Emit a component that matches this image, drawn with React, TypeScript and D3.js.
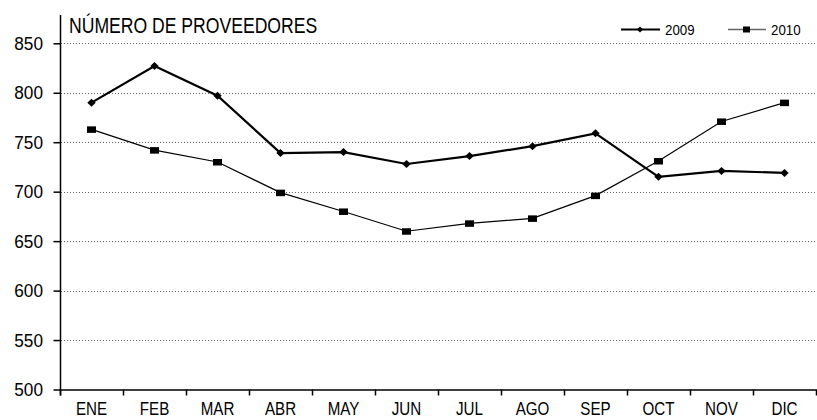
import { useEffect, useRef } from 'react';
import * as d3 from 'd3';

const months = ['ENE', 'FEB', 'MAR', 'ABR', 'MAY', 'JUN', 'JUL', 'AGO', 'SEP', 'OCT', 'NOV', 'DIC'];
const values2009 = [790, 827, 797, 739, 740, 728, 736, 746, 759, 715, 721, 719];
const values2010 = [763, 742, 730, 699, 680, 660, 668, 673, 696, 731, 771, 790];
const yTicks = [500, 550, 600, 650, 700, 750, 800, 850];
const title = 'NÚMERO DE PROVEEDORES';

const FONT = '"Liberation Sans", Arial, sans-serif';

function App() {
  const ref = useRef<SVGSVGElement>(null);

  useEffect(() => {
    const width = 817;
    const height = 420;
    const svg = d3.select(ref.current).attr('width', width).attr('height', height);
    svg.selectAll('*').remove();

    const x = d3.scaleBand().domain(months).range([60, 816]);
    const y = d3.scaleLinear().domain([500, 850]).range([389.5, 43.3]);
    const cx = (m: string) => (x(m) as number) + x.bandwidth() / 2;

    // narrow text: the reference uses a condensed face, so squeeze a regular one
    const label = (g: any, tx: number, ty: number, s: string, size: number, sx: number, anchor = 'start') =>
      g
        .append('text')
        .attr('transform', `translate(${tx},${ty}) scale(${sx},1)`)
        .attr('text-anchor', anchor)
        .attr('font-family', FONT)
        .attr('font-size', size)
        .attr('fill', '#000')
        .text(s);

    // grid
    svg
      .append('g')
      .selectAll('line')
      .data(yTicks.filter(t => t > 500))
      .join('line')
      .attr('x1', 61)
      .attr('x2', width)
      .attr('y1', d => Math.round(y(d)) + 0.5)
      .attr('y2', d => Math.round(y(d)) + 0.5)
      .attr('stroke', '#666')
      .attr('stroke-width', 1)
      .attr('stroke-dasharray', '1,2');

    // y axis
    const yAxis = svg
      .append('g')
      .attr('transform', 'translate(60.5,0)')
      .call(d3.axisLeft(y).tickValues(yTicks).tickSize(7).tickFormat(() => ''));
    yAxis.select('.domain').remove();
    yAxis.selectAll('line').attr('stroke', '#000').attr('stroke-width', 1.5);
    const yl = svg.append('g');
    yTicks.forEach(t => label(yl, 43, y(t) + 6.5, String(t), 18.5, 0.93, 'end'));
    svg
      .append('line')
      .attr('x1', 60.5)
      .attr('x2', 60.5)
      .attr('y1', 15)
      .attr('y2', y(500))
      .attr('stroke', '#000')
      .attr('stroke-width', 1.5);

    // x axis
    const xAxis = svg
      .append('g')
      .attr('transform', `translate(0,${y(500)})`)
      .call(
        d3
          .axisBottom(d3.scaleLinear().domain([0, 12]).range([60, 816]))
          .tickValues(d3.range(0, 12))
          .tickSize(6)
          .tickFormat(() => '')
      );
    xAxis.select('.domain').attr('stroke', '#000').attr('stroke-width', 1.5);
    xAxis.selectAll('line').attr('stroke', '#000').attr('stroke-width', 1.5);
    const xl = svg.append('g');
    months.forEach(m => label(xl, cx(m), 415, m, 18.5, 0.82, 'middle'));

    // title
    label(svg, 69, 33, title, 22, 0.8);

    const line = d3
      .line<number>()
      .x((_, i) => cx(months[i]))
      .y(d => y(d));

    const diamond = 'M0,-4L4.2,0L0,4L-4.2,0Z';

    // 2010
    svg
      .append('path')
      .attr('d', line(values2010))
      .attr('fill', 'none')
      .attr('stroke', '#000')
      .attr('stroke-width', 1.2);
    svg
      .append('g')
      .selectAll('rect')
      .data(values2010)
      .join('rect')
      .attr('x', (_, i) => cx(months[i]) - 4.5)
      .attr('y', d => y(d) - 3)
      .attr('width', 9)
      .attr('height', 6.5)
      .attr('fill', '#000');

    // 2009
    svg
      .append('path')
      .attr('d', line(values2009))
      .attr('fill', 'none')
      .attr('stroke', '#000')
      .attr('stroke-width', 2.2);
    svg
      .append('g')
      .selectAll('path')
      .data(values2009)
      .join('path')
      .attr('d', diamond)
      .attr('transform', (d, i) => `translate(${cx(months[i])},${y(d)})`)
      .attr('fill', '#000');

    // legend
    const lg = svg.append('g');
    lg.append('line').attr('x1', 621).attr('x2', 660).attr('y1', 29.5).attr('y2', 29.5).attr('stroke', '#000').attr('stroke-width', 2);
    lg.append('path').attr('d', 'M0,-3L3,0L0,3L-3,0Z').attr('transform', 'translate(640,29.5)').attr('fill', '#000');
    label(lg, 665, 34.5, '2009', 14, 0.95);
    lg.append('line').attr('x1', 728).attr('x2', 766).attr('y1', 29.5).attr('y2', 29.5).attr('stroke', '#666').attr('stroke-width', 1.5);
    lg.append('rect').attr('x', 743).attr('y', 26.5).attr('width', 7).attr('height', 6).attr('fill', '#000');
    label(lg, 771, 34.5, '2010', 14, 0.95);
  }, []);

  return <svg ref={ref} style={{ position: 'absolute', left: 0, top: 0 }} />;
}

export default App;
